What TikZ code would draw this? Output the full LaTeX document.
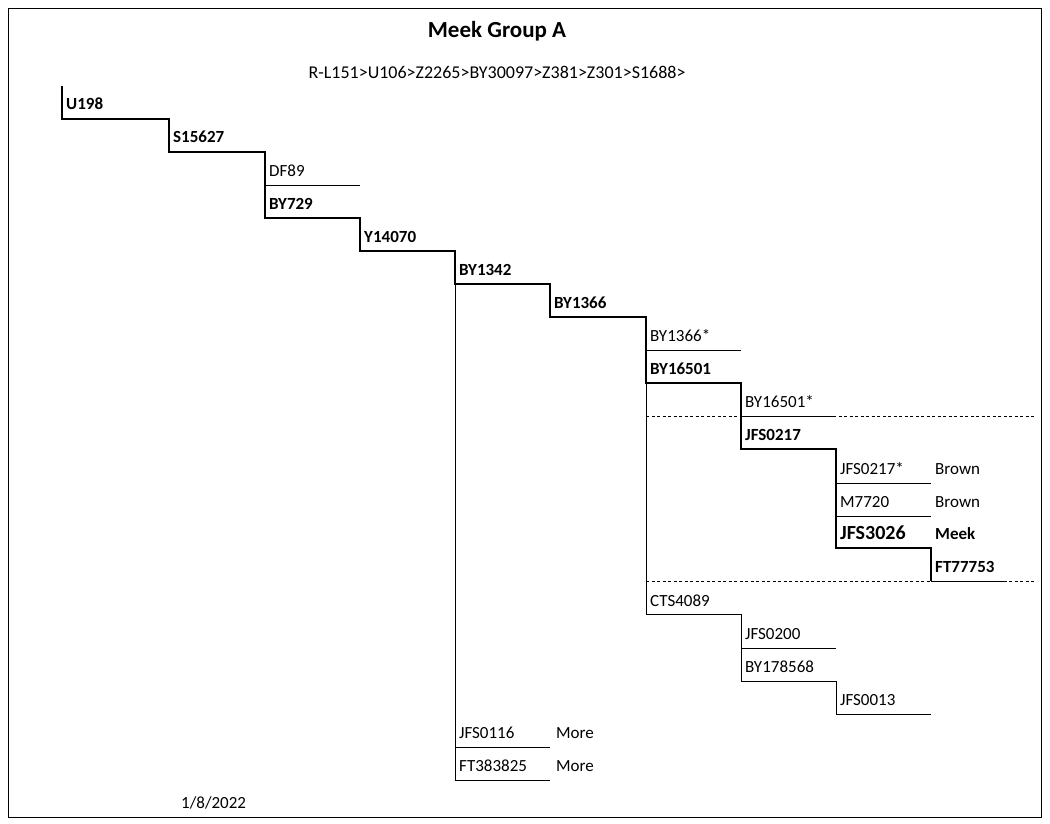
\documentclass[tikz,border=0pt]{standalone}
\usepackage{fontspec}
\setmainfont{Carlito}
\begin{document}
\begin{tikzpicture}[x=1pt,y=-1pt,
  lab/.style={anchor=base west,inner sep=0pt,font=\fontsize{17}{20}\selectfont},
  blab/.style={lab,font=\fontsize{17}{20}\selectfont\bfseries},
  thick line/.style={line width=1.6pt},
  thin line/.style={line width=0.8pt},
  dash line/.style={line width=0.8pt,dash pattern=on 3pt off 2.5pt}]
\useasboundingbox (0,0) rectangle (1050,824);
\draw[line width=0.8pt] (8,8) rectangle (1041,817);
\node[font=\fontsize{23}{26}\selectfont\bfseries] (title) at (497,31) {Meek Group A};
\node[font=\fontsize{18}{22}\selectfont] (path) at (497,72) {R-L151>U106>Z2265>BY30097>Z381>Z301>S1688>};
\node[lab] (date) at (181,808) {1/8/2022};
% labels
\node[blab] (u198) at (66,110) {U198};
\node[blab] (s15627) at (173,143) {S15627};
\node[lab] (df89) at (269,176) {DF89};
\node[blab] (by729) at (269,209) {BY729};
\node[blab] (y14070) at (364,242) {Y14070};
\node[blab] (by1342) at (459,275) {BY1342};
\node[blab] (by1366) at (554,308) {BY1366};
\node[lab] (by1366s) at (650,341) {BY1366*};
\node[blab] (by16501) at (650,374) {BY16501};
\node[lab] (by16501s) at (745,407) {BY16501*};
\node[blab] (jfs0217) at (745,440) {JFS0217};
\node[lab] (jfs0217s) at (840,474) {JFS0217*};
\node[lab] (br1) at (935,474) {Brown};
\node[lab] (m7720) at (840,507) {M7720};
\node[lab] (br2) at (935,507) {Brown};
\node[blab,font=\fontsize{20}{24}\selectfont\bfseries] (jfs3026) at (840,539) {JFS3026};
\node[blab] (meek) at (935,539) {Meek};
\node[blab] (ft77753) at (935,572) {FT77753};
\node[lab] (cts4089) at (650,606) {CTS4089};
\node[lab] (jfs0200) at (745,639) {JFS0200};
\node[lab] (by178568) at (745,672) {BY178568};
\node[lab] (jfs0013) at (840,705) {JFS0013};
\node[lab] (jfs0116) at (459,738) {JFS0116};
\node[lab] (more1) at (556,738) {More};
\node[lab] (ft383825) at (459,771) {FT383825};
\node[lab] (more2) at (556,771) {More};
% thick staircase
\draw[thick line] (62,86) -- (62,119) -- (169,119) -- (169,152) -- (265,152) -- (265,218)
  -- (360,218) -- (360,251) -- (455,251) -- (455,284) -- (550,284) -- (550,317)
  -- (646,317) -- (646,383) -- (741,383) -- (741,449) -- (836,449) -- (836,548)
  -- (931,548) -- (931,581);
% thin lines
\draw[thin line] (265,185) -- (360,185);
\draw[thin line] (455,284) -- (455,780);
\draw[thin line] (455,747) -- (550,747);
\draw[thin line] (455,780) -- (550,780);
\draw[thin line] (646,350) -- (741,350);
\draw[thin line] (646,383) -- (646,614) -- (741,614);
\draw[thin line] (741,416) -- (836,416);
\draw[thin line] (836,483) -- (931,483);
\draw[thin line] (836,516) -- (931,516);
\draw[thin line] (931,581) -- (1005,581);
\draw[thin line] (741,614) -- (741,681);
\draw[thin line] (741,648) -- (836,648);
\draw[thin line] (741,681) -- (836,681) -- (836,714) -- (931,714);
% dashed
\draw[dash line] (646,416) -- (1035,416);
\draw[dash line] (646,581) -- (1035,581);
\end{tikzpicture}
\end{document}
